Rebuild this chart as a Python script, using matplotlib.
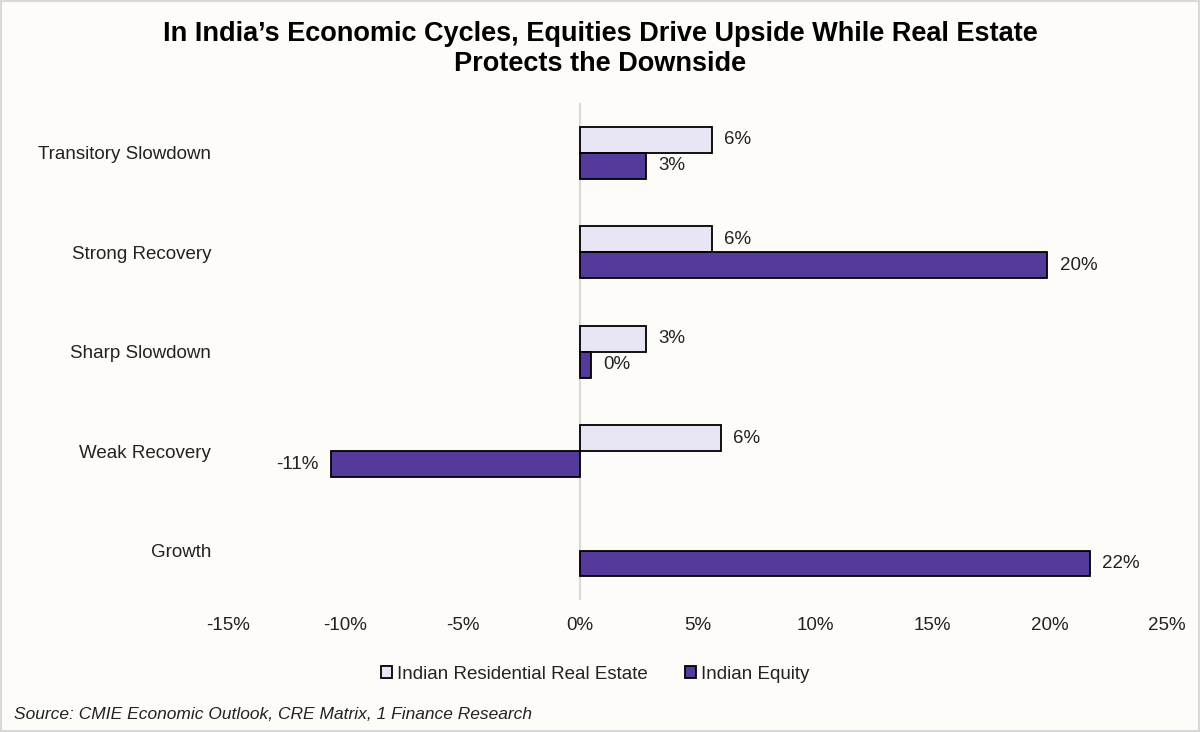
import matplotlib.pyplot as plt
import numpy as np
from matplotlib.patches import Rectangle

categories = ['Transitory Slowdown', 'Strong Recovery', 'Sharp Slowdown',
              'Weak Recovery', 'Growth']
real_estate = [5.6, 5.6, 2.8, 6.0, np.nan]
equity = [2.8, 19.9, 0.45, -10.6, 21.7]
xticks = [-15, -10, -5, 0, 5, 10, 15, 20, 25]

bg = '#FDFCF8'
re_color = '#E8E6F4'
eq_color = '#533A9B'
txt = '#222222'

plt.rcParams['font.family'] = ['Liberation Sans', 'DejaVu Sans']

fig = plt.figure(figsize=(12, 7.32), dpi=100, facecolor=bg)
ax = fig.add_axes([0.19, 0.180, 0.7825, 0.679], facecolor=bg)

y = np.arange(len(categories))
h = 0.26
ax.barh(y - h / 2, real_estate, height=h, color=re_color, edgecolor='black',
        linewidth=1.3, label='Indian Residential Real Estate')
ax.barh(y + h / 2, equity, height=h, color=eq_color, edgecolor='black',
        linewidth=1.3, label='Indian Equity')

for yy, vals in ((y - h / 2, real_estate), (y + h / 2, equity)):
    for yi, v in zip(yy, vals):
        if np.isnan(v):
            continue
        off = 9 if v >= 0 else -9
        ax.annotate(f'{v:.0f}%', (v, yi), xytext=(off, 0), textcoords='offset points',
                    ha='left' if v >= 0 else 'right', va='center', fontsize=13.5,
                    color=txt)

ax.set_xlim(-15, 25)
ax.set_ylim(len(categories) - 0.5, -0.5)
ax.set_xticks(xticks)
ax.set_xticklabels([f'{t}%' for t in xticks], fontsize=13.5, color=txt)
ax.set_yticks(y)
ax.set_yticklabels(categories, fontsize=13.5, color=txt)
ax.tick_params(length=0)
ax.tick_params(axis='x', pad=12)
ax.tick_params(axis='y', pad=12)
for s in ax.spines.values():
    s.set_visible(False)
ax.axvline(0, color='#D9D9D9', linewidth=1.5, zorder=0)

fig.text(0.5, 0.944, "In India\u2019s Economic Cycles, Equities Drive Upside While Real Estate",
         fontsize=19.5, fontweight='bold', ha='center', va='baseline')
fig.text(0.5, 0.903, "Protects the Downside",
         fontsize=19.5, fontweight='bold', ha='center', va='baseline')

leg = fig.legend(loc='center', bbox_to_anchor=(0.496, 0.079), ncol=2, frameon=False,
                 fontsize=13.5, handlelength=0.6, handleheight=0.6, handletextpad=0.25,
                 columnspacing=2.0)
for t in leg.get_texts():
    t.set_color(txt)

fig.text(0.012, 0.024, 'Source: CMIE Economic Outlook, CRE Matrix, 1 Finance Research',
         fontsize=12.5, style='italic', color=txt, va='center')

fig.patches.append(Rectangle((0, 0), 1, 1, transform=fig.transFigure, fill=False,
                             edgecolor='#D9D9D9', linewidth=3))

fig.savefig('out.png', dpi=100, facecolor=bg)
